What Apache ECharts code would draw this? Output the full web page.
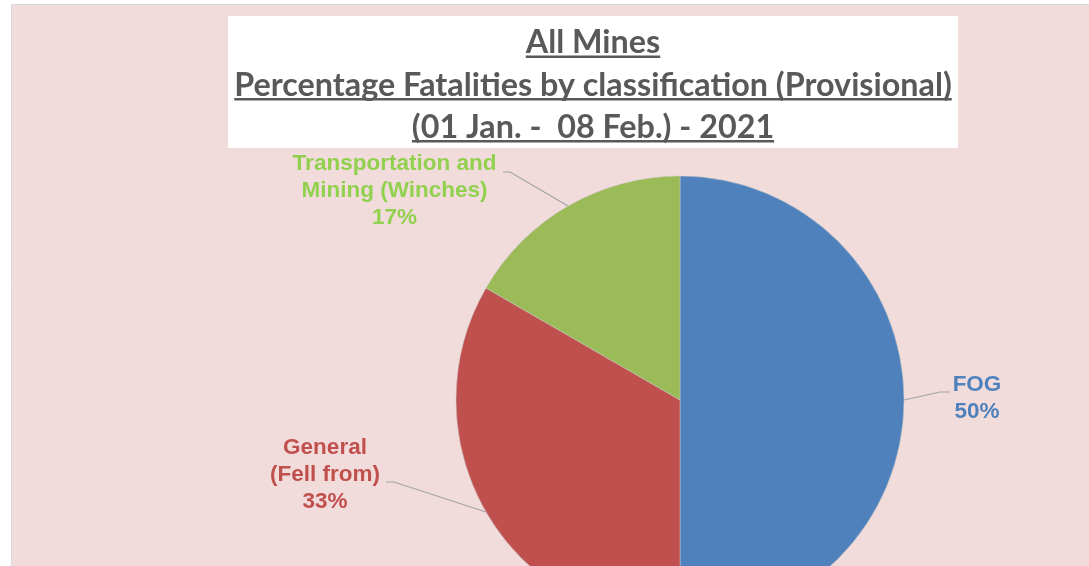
<!DOCTYPE html>
<html>
<head>
<meta charset="utf-8">
<script src="https://cdn.jsdelivr.net/npm/echarts@6/dist/echarts.min.js"></script>
<style>
  html, body { margin: 0; padding: 0; background: #ffffff; }
  #chart { width: 1089px; height: 566px; }
</style>
</head>
<body>
<div id="chart"></div>
<script>
// ---- data ----
const categories = ['FOG', 'General\n(Fell from)', 'Transportation and\nMining (Winches)'];
const values = [3, 2, 1];
const sliceColors = ['#4F81BD', '#C0504D', '#9BBB59'];
const labelColors = ['#4F81BD', '#C0504D', '#92D050'];
const titleLines = ['All Mines', 'Percentage Fatalities by classification (Provisional)', '(01 Jan. -  08 Feb.) - 2021'];

// ---- layout / style ----
const TITLE_FONT = 'Lato';
const TITLE_COLOR = '#595959';
const titleCenterX = 593;
const titleBaselines = [51, 93.5, 135.5];
const titleTargetWidth = 718;

const measureCtx = document.createElement('canvas').getContext('2d');
function textWidth(txt, size) {
  measureCtx.font = 'bold ' + size + 'px ' + TITLE_FONT;
  return measureCtx.measureText(txt).width;
}
const titleSize = 100 * titleTargetWidth / textWidth(titleLines[1], 100);

const graphics = [
  { type: 'rect', shape: { x: 11.5, y: 4.5, width: 1200, height: 700 },
    style: { fill: '#F2DCDB', stroke: '#D9D9D9', lineWidth: 1 }, silent: true },
  { type: 'rect', shape: { x: 228, y: 16, width: 730, height: 132 },
    style: { fill: '#FFFFFF' }, silent: true }
];
titleLines.forEach(function (t, i) {
  const w = textWidth(t, titleSize);
  graphics.push({
    type: 'text', x: titleCenterX, y: titleBaselines[i] - titleSize * 0.26,
    style: { text: t, font: 'bold ' + titleSize + 'px ' + TITLE_FONT, fill: TITLE_COLOR,
      align: 'center', verticalAlign: 'middle' }, silent: true
  });
  graphics.push({
    type: 'rect', shape: { x: titleCenterX - w / 2, y: titleBaselines[i] + 4.5, width: w, height: 2.5 },
    style: { fill: TITLE_COLOR }, silent: true
  });
});

// label placements (label block center-x / top, and label-line bend and end points)
const labelPlace = [
  { x: 977, y: 371.5, bend: [940, 392], end: [950, 392] },
  { x: 325, y: 434.5, bend: [394, 482], end: [386, 482] },
  { x: 394.5, y: 150, bend: [510, 172], end: [503, 172] }
];

const chart = echarts.init(document.getElementById('chart'), null, { renderer: 'canvas' });
chart.setOption({
  animation: false,
  graphic: graphics,
  series: [{
    type: 'pie',
    center: [680, 400],
    radius: 224,
    startAngle: 90,
    clockwise: true,
    avoidLabelOverlap: false,
    percentPrecision: 0,
    data: categories.map(function (c, i) {
      return {
        name: c, value: values[i],
        itemStyle: { color: sliceColors[i] },
        label: { color: labelColors[i] }
      };
    }),
    itemStyle: { borderColor: 'rgba(200,200,200,0.5)', borderWidth: 1 },
    label: {
      show: true, position: 'outside', alignTo: 'none',
      formatter: '{b}\n{d}%',
      fontFamily: 'Liberation Sans', fontWeight: 'bold', fontSize: 22.5, lineHeight: 27
    },
    labelLine: { show: true, length: 20, length2: 10, lineStyle: { color: '#A0A4A8', width: 1.2 } },
    labelLayout: function (params) {
      const p = labelPlace[params.dataIndex];
      const a = params.labelLinePoints ? params.labelLinePoints[0] : p.bend;
      return {
        x: p.x, y: p.y, align: 'center', verticalAlign: 'top',
        labelLinePoints: [a, p.bend, p.end]
      };
    },
    emphasis: { disabled: true }
  }]
});
</script>
</body>
</html>
